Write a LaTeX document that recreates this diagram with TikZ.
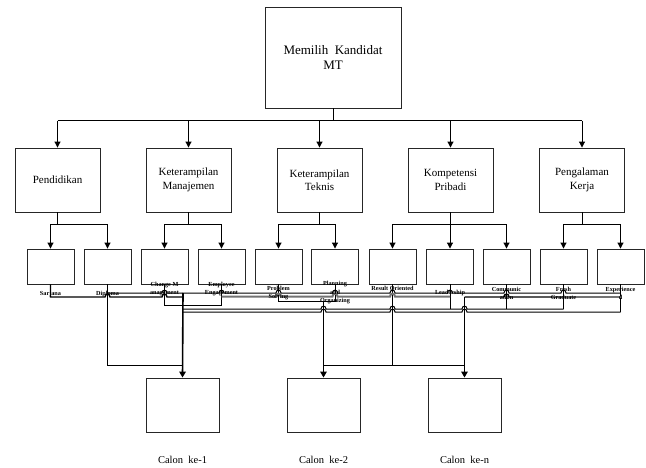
\documentclass[tikz,border=0pt]{standalone}
\usepackage{fontspec}
\setmainfont{Liberation Serif}
\usetikzlibrary{arrows.meta}
\newcommand\hopx[2]{-- ({#1-2.5},#2) .. controls ({#1-2.5},{#2-3.8}) and ({#1+2.5},{#2-3.8}) .. ({#1+2.5},#2)}
\begin{document}
\begin{tikzpicture}[x=1pt,y=-1pt,
  every node/.style={inner sep=0pt},
  box/.style={draw=black!85, line width=0.9pt, fill=white, align=center},
  topbox/.style={box, minimum width=136pt, minimum height=101pt, font=\fontsize{13}{15}\selectfont},
  midbox/.style={box, minimum width=85pt, minimum height=64pt, font=\fontsize{11}{13.5}\selectfont},
  leafbox/.style={box, minimum width=47pt, minimum height=35pt},
  calbox/.style={box, minimum width=73pt, minimum height=54pt},
  leaflbl/.style={font=\bfseries\fontsize{6.2}{8.5}\selectfont, align=center},
  callbl/.style={font=\fontsize{10.5}{12}\selectfont},
  conn/.style={line width=1pt},
  arr/.style={conn, -{Triangle[length=6pt,width=6pt]}},
  bigarr/.style={line width=1.6pt, -{Triangle[length=6pt,width=6.5pt]}},
  grayline/.style={line width=2pt, draw=black!55}
]
\useasboundingbox (0,0) rectangle (646,468);

% top
\node[topbox] (top) at (333,57.5) {Memilih\enspace Kandidat\\MT};

% level 2
\node[midbox] (m1) at (57.5,180) {Pendidikan};
\node[midbox] (m2) at (188.5,180) {Keterampilan\\Manajemen};
\node[midbox] (m3) at (319.5,180) {Keterampilan\\Teknis};
\node[midbox] (m4) at (450.5,180) {Kompetensi\\Pribadi};
\node[midbox] (m5) at (582,180) {Pengalaman\\Kerja};

% leaves
\foreach \i/\x in {1/50.5,2/107.5,3/164.5,4/221.5,5/278.5,6/335,7/392.5,8/450,9/506.5,10/563.5,11/620.5}
  \node[leafbox] (a\i) at (\x,266.5) {};

% bottom boxes
\node[calbox] (c1) at (182.5,405) {};
\node[calbox] (c2) at (323.5,405) {};
\node[calbox] (c3) at (464.5,405) {};
\node[callbl] (t1) at (182.5,460) {Calon\enspace ke-1};
\node[callbl] (t2) at (323.5,460) {Calon\enspace ke-2};
\node[callbl] (t3) at (464.5,460) {Calon\enspace ke-n};

% top connectors
\coordinate (tb) at (333,121);
\draw[conn] (top.south) -- (top.south |- tb);
\draw[conn] (m1.north |- tb) -- (m5.north |- tb);
\foreach \i in {1,...,5} \draw[arr] (m\i.north |- tb) -- (m\i.north);

% level 2 to leaves
\foreach \m/\f/\l in {1/1/2,2/3/4,3/5/6,4/7/9,5/10/11}{
  \draw[conn] (m\m.south) -- ++(0,12) coordinate (s\m);
  \draw[conn] (a\f.north |- s\m) -- (a\l.north |- s\m);
}
\foreach \a/\m in {1/1,2/1,3/2,4/2,5/3,6/3,7/4,8/4,9/4,10/5,11/5}
  \draw[arr] (a\a.north |- s\m) -- (a\a.north);

% messy connectors to candidates
\coordinate (j1) at (183,293);
\coordinate (j2) at (323.5,301);
\coordinate (j3) at (464.5,297);
\draw[conn] (a2.south) -- (107.5,365) -- (c1.north |- 0,365);
\draw[conn] (a7.south) -- (392.5,365);
\draw[conn] (c2.north |- 0,365) -- (c3.north |- 0,365);
\draw[conn] (a3.south) -- (164.5,305) -- (221.5,305) -- (a4.south);
\draw[conn] (a5.south) -- (278.5,301) -- (j2);
\draw[conn] (a6.south) -- (335,301) -- (j2);
\draw[conn] (a8.south) -- (450,309);
\draw[conn] (a9.south) -- (506.5,309);
\draw[conn] (a10.south) -- (563.5,309);
\draw[conn] (a11.south) -- (620.5,312);

\draw[line width=1.4pt] (a1.south) -- (50.5,297) \hopx{107.5}{297} \hopx{164.5}{297} -- (183,297);
\draw[conn] (107.5,293) \hopx{164.5}{293} \hopx{221.5}{293} \hopx{278.5}{293} \hopx{335}{293} \hopx{392.5}{293} \hopx{450}{293} \hopx{506.5}{293} \hopx{563.5}{293} -- (620.5,293);
\draw[grayline] (221.5,296.5) \hopx{278.5}{296.5} \hopx{335}{296.5} \hopx{392.5}{296.5} -- (450,296.5);
\draw[line width=1.4pt] (j3) \hopx{506.5}{297} -- (563.5,297);
\draw[grayline] (563.5,297) -- (620.5,297);
\draw[conn] (183,309) \hopx{323.5}{309} \hopx{392.5}{309} \hopx{464.5}{309} -- (563.5,309);
\draw[conn] (183,312) \hopx{323.5}{312} \hopx{392.5}{312} \hopx{464.5}{312} -- (620.5,312);

\draw[bigarr] (j1) -- (c1.north);
\draw[bigarr] (c2.north |- j2) -- (c2.north);
\draw[bigarr] (c3.north |- j3) -- (c3.north);

% leaf labels
\node[leaflbl] (l1) at (50.5,294) {Sarjana};
\node[leaflbl] (l2) at (107.5,294) {Diploma};
\node[leaflbl] (l3) at (164.5,289) {Change M\\anagement};
\node[leaflbl] (l4) at (221.5,289) {Employee\\Engagement};
\node[leaflbl] (l5) at (278.5,293) {Problem\\Solving};
\node[leaflbl] (l6) at (335,293) {Planning\\and\\Organizing};
\node[leaflbl] (l7) at (392.5,288) {Result Oriented};
\node[leaflbl] (l8) at (450,293) {Leadership};
\node[leaflbl] (l9) at (506.5,293.5) {Communic\\ation};
\node[leaflbl] (l10) at (563.5,293.5) {Fresh\\Graduate};
\node[leaflbl] (l11) at (620.5,293.5) {Experience\\d};
\end{tikzpicture}
\end{document}
